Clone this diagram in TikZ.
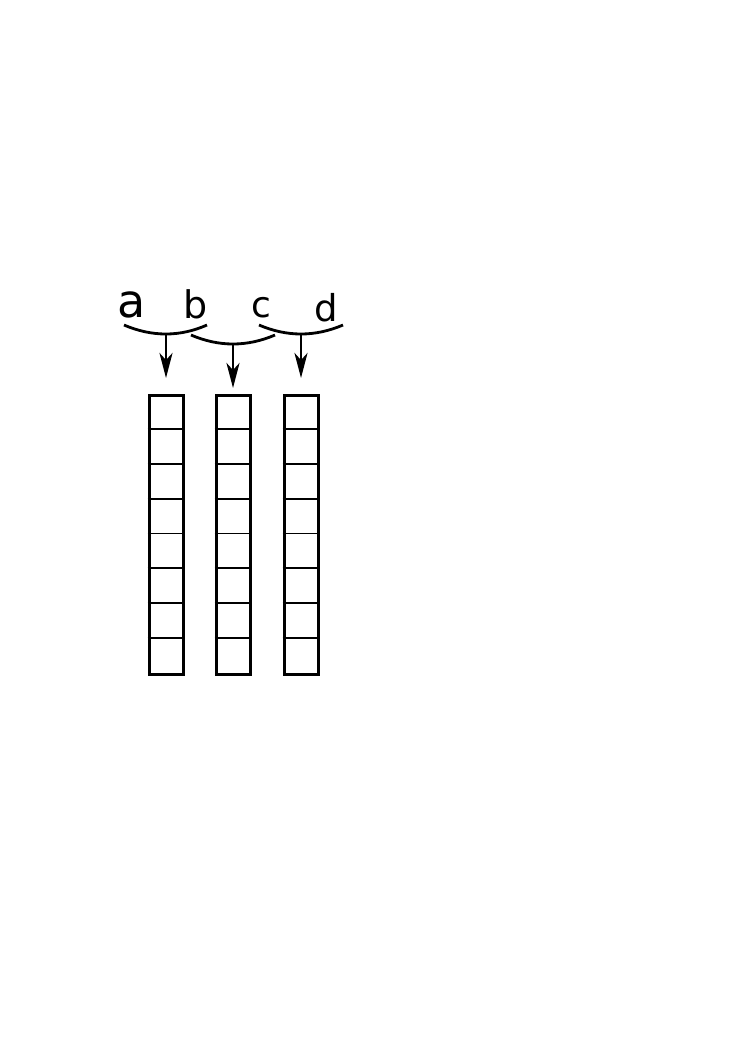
\documentclass[tikz,border=0pt]{standalone}
\usepackage{fontspec}
\setmainfont{DejaVu Sans}
\usetikzlibrary{arrows.meta}

\begin{document}
\begin{tikzpicture}[x=1pt, y=-1pt,
  column/.style={draw,line width=3pt,minimum width=34pt,minimum height=279pt,inner sep=0pt,anchor=north},
  cell/.style={line width=1.9pt},
  brace/.style={line width=2.8pt},
  pointer/.style={line width=2.8pt,-{Stealth[length=25pt,width=13pt,inset=7pt]}},
  letter/.style={inner sep=0pt,anchor=base}]
\useasboundingbox (0,0) rectangle (745,1053);
% the three columns of cells
\foreach \i/\x in {1/166,2/233,3/301} {
  \node[column] (col\i) at (\x,394) {};
  \foreach \k in {1,...,7}
    \draw[cell] ([yshift=-\k*34.875pt]col\i.north west) -- ([yshift=-\k*34.875pt]col\i.north east);
}
% letters
\node[letter,font=\fontsize{46}{46}\selectfont] (a) at (132,317) {a};
\node[letter,font=\fontsize{38}{38}\selectfont] (b) at (196,318) {b};
\node[letter,font=\fontsize{36}{36}\selectfont] (c) at (261,317) {c};
\node[letter,font=\fontsize{37}{37}\selectfont] (d) at (326,321) {d};
% braces under the pairs
\coordinate (ab) at (166,334);
\coordinate (bc) at (233,344);
\coordinate (cd) at (301,334);
\draw[brace] (124,325) .. controls (152,337) and (180,337) .. (207,325);
\draw[brace] (191,335) .. controls (219,347) and (247,347) .. (275,335);
\draw[brace] (259,325) .. controls (287,337) and (315,337) .. (343,325);
\draw[pointer,shorten >=16pt] (ab) -- (col1);
\draw[pointer,shorten >=6pt] (bc) -- (col2);
\draw[pointer,shorten >=16pt] (cd) -- (col3);
\end{tikzpicture}
\end{document}
